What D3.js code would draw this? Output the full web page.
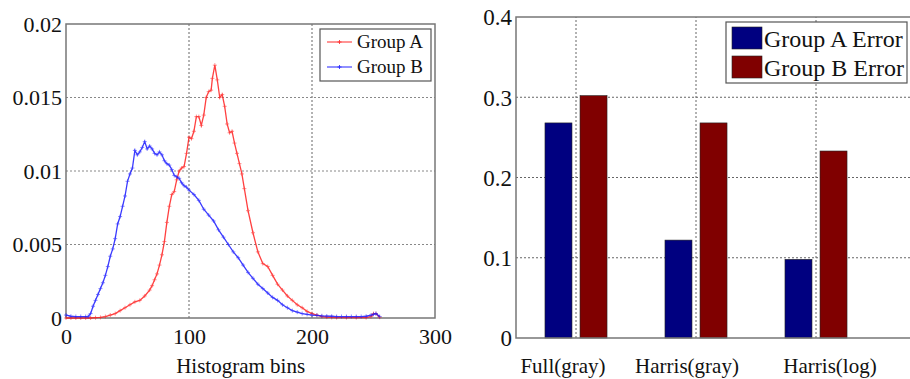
<!DOCTYPE html>
<html><head><meta charset="utf-8">
<script src="https://cdn.jsdelivr.net/npm/d3@7"></script>
<style>body{margin:0;background:#fff}svg{display:block}</style>
</head><body>
<script>
// ---------- Left chart data ----------
const binsA = [0,4,8,12,16,20,24,28,32,36,40,44,48,52,56,60,64,68,70,72,74,76,78,80,82,84,86,88,90,92,94,96,98,100,102,104,106,108,110,112,114,116,118,119,121,123,125,127,129,131,133,135,137,139,141,143,145,148,152,156,160,164,168,172,176,180,184,188,192,196,200,204,208,212,216,220,228,236,244,248,250,252,255];
const valuesA = [0,0,0,0,0,0,0.00002,0.00004,0.0001,0.0002,0.0003,0.0005,0.0007,0.0009,0.0011,0.0012,0.0015,0.0019,0.0022,0.0026,0.0030,0.0036,0.0043,0.0052,0.0065,0.0076,0.0084,0.0086,0.0094,0.0100,0.0102,0.0103,0.0112,0.0123,0.0122,0.0127,0.0137,0.0137,0.0131,0.0138,0.0150,0.0154,0.0155,0.0163,0.0172,0.0162,0.0150,0.0152,0.0144,0.0132,0.0126,0.0127,0.0119,0.0112,0.0105,0.0098,0.0088,0.0073,0.0058,0.0045,0.0037,0.0035,0.0029,0.0023,0.0019,0.0015,0.0012,0.0009,0.0007,0.00045,0.0003,0.0002,0.0001,0.00006,0.00004,0.00003,0.00003,0.00003,0.00003,0.0001,0.0003,0.0003,0.00005];
const binsB = [0,4,8,12,16,18,20,22,24,26,28,30,32,34,36,38,40,42,44,46,48,50,52,54,56,58,60,62,64,66,68,70,72,74,76,78,80,82,84,86,88,90,92,94,96,98,100,104,108,112,116,120,124,128,132,136,140,144,148,152,156,160,164,168,172,176,180,184,188,192,196,200,204,208,212,216,220,224,228,232,236,240,244,248,250,252,255];
const valuesB = [0.0002,0.00012,0.0001,0.0001,0.0001,0.0001,0.0003,0.0008,0.0012,0.0016,0.0020,0.0024,0.0029,0.0035,0.0042,0.0047,0.0054,0.0064,0.0069,0.0076,0.0083,0.0093,0.0098,0.0102,0.0114,0.0111,0.0113,0.0116,0.0120,0.0115,0.0117,0.0115,0.0112,0.0111,0.0113,0.0111,0.0107,0.0105,0.0104,0.0101,0.0097,0.0096,0.0095,0.0092,0.0090,0.0089,0.0087,0.0084,0.0080,0.0074,0.0070,0.0066,0.0060,0.0055,0.0050,0.0045,0.0041,0.0036,0.0031,0.0027,0.0023,0.0020,0.0017,0.0014,0.0012,0.0009,0.0007,0.0005,0.0004,0.0003,0.00025,0.0002,0.00018,0.00015,0.00013,0.00012,0.0001,0.0001,0.0001,0.0001,0.0001,0.0001,0.00012,0.0002,0.00025,0.0003,0.0001];
const lineSeries = ["Group A","Group B"];
const xTicksLeft = [0,100,200,300];
const yTicksLeft = [0,0.005,0.01,0.015,0.02];
const xLabelLeft = "Histogram bins";

// ---------- Right chart data ----------
const categories = ["Full(gray)","Harris(gray)","Harris(log)"];
const errorA = [0.268,0.122,0.098];
const errorB = [0.302,0.268,0.233];
const barSeries = ["Group A Error","Group B Error"];
const yTicksRight = [0,0.1,0.2,0.3,0.4];

const FONT = '"Liberation Serif", "Times New Roman", serif';
const W = 910, H = 379;
const svg = d3.select("body").append("svg").attr("width",W).attr("height",H).style("font-family",FONT);
svg.append("rect").attr("width",W).attr("height",H).attr("fill","#fff");
const txt = (sel,size) => sel.style("font-family",FONT).style("font-size",size+"px").attr("fill","#111");

const gridStyle = sel => sel.attr("stroke","#666").attr("stroke-width",1).attr("stroke-dasharray","2,2").attr("fill","none");

// ================= LEFT CHART =================
const L = {x0:66, x1:435, y0:318, y1:24};
const xL = d3.scaleLinear().domain([0,300]).range([L.x0,L.x1]);
const yL = d3.scaleLinear().domain([0,0.02]).range([L.y0,L.y1]);
const gL = svg.append("g");

gL.selectAll(".vg").data(xTicksLeft.slice(1,-1)).join("line")
  .attr("x1",d=>xL(d)).attr("x2",d=>xL(d)).attr("y1",L.y0).attr("y2",L.y1).call(gridStyle);
gL.selectAll(".hg").data(yTicksLeft.slice(1,-1)).join("line")
  .attr("x1",L.x0).attr("x2",L.x1).attr("y1",d=>yL(d)).attr("y2",d=>yL(d)).call(gridStyle).attr("stroke","#888");

const axL = gL.append("g").attr("transform",`translate(0,${L.y0})`)
  .call(d3.axisBottom(xL).tickValues(xTicksLeft).tickSize(0).tickPadding(10).tickFormat(d3.format("d")));
const ayL = gL.append("g").attr("transform",`translate(${L.x0},0)`)
  .call(d3.axisLeft(yL).tickValues(yTicksLeft).tickSize(0).tickPadding(4).tickFormat(d=>d===0?"0":String(+d.toFixed(3))));
[axL,ayL].forEach(a=>{a.attr("font-family",null).attr("font-size",null);a.select(".domain").remove();a.selectAll("text").call(txt,22);});
axL.selectAll("text").attr("dy","0.71em");
ayL.selectAll("text").attr("dy","0.34em");

gL.append("rect").attr("x",L.x0).attr("y",L.y1).attr("width",L.x1-L.x0).attr("height",L.y0-L.y1)
  .attr("fill","none").attr("stroke","#777").attr("stroke-width",1.5);

const colsL = ["#ff2020","#1818ff"];
const seriesL = [binsA.map((b,i)=>[b,valuesA[i]]), binsB.map((b,i)=>[b,valuesB[i]])];
const line = d3.line().x(d=>xL(d[0])).y(d=>yL(d[1]));
seriesL.forEach((pts,k)=>{
  const g = gL.append("g").attr("opacity",0.85);
  g.append("path").datum(pts).attr("d",line).attr("fill","none").attr("stroke",colsL[k]).attr("stroke-width",1.3);
  g.selectAll("path.m").data(pts).join("path").attr("class","m")
    .attr("d",d=>{const x=xL(d[0]),y=yL(d[1]);return `M${x-2},${y}H${x+2}M${x},${y-2}V${y+2}`;})
    .attr("stroke",colsL[k]).attr("stroke-width",1).attr("opacity",0.6);
});

gL.append("text").attr("x",xL(142)).attr("y",373).attr("text-anchor","middle")
  .call(txt,21).text(xLabelLeft);

const lgL = gL.append("g");
lgL.append("rect").attr("x",320).attr("y",29).attr("width",111).attr("height",52)
  .attr("fill","#fff").attr("stroke","#555").attr("stroke-width",1.2);
lineSeries.forEach((s,i)=>{
  const yy = 42 + i*25;
  lgL.append("line").attr("x1",327).attr("x2",352).attr("y1",yy).attr("y2",yy).attr("stroke",colsL[i]).attr("stroke-width",1.2).attr("opacity",0.8);
  lgL.append("path").attr("d",`M339.5,${yy-2}V${yy+2}M337.5,${yy}H341.5`).attr("stroke",colsL[i]).attr("opacity",0.8);
  lgL.append("text").attr("x",357).attr("y",yy).attr("dy","0.34em").call(txt,19).text(s);
});

// ================= RIGHT CHART =================
const R = {x0:516, x1:912, y0:338, y1:17};
const xR = d3.scaleLinear().domain([0.5,3.8]).range([R.x0,R.x1]);
const yR = d3.scaleLinear().domain([0,0.4]).range([R.y0,R.y1]);
const gR = svg.append("g");

gR.selectAll(".vg").data(categories).join("line")
  .attr("x1",(d,i)=>xR(i+1)).attr("x2",(d,i)=>xR(i+1)).attr("y1",R.y0).attr("y2",R.y1).call(gridStyle);
gR.selectAll(".hg").data(yTicksRight.slice(1,-1)).join("line")
  .attr("x1",R.x0).attr("x2",R.x1).attr("y1",d=>yR(d)).attr("y2",d=>yR(d)).call(gridStyle);

const ayR = gR.append("g").attr("transform",`translate(${R.x0},0)`)
  .call(d3.axisLeft(yR).tickValues(yTicksRight).tickSize(0).tickPadding(4).tickFormat(d=>d===0?"0":d3.format(".1f")(d)));
ayR.attr("font-family",null).attr("font-size",null);
ayR.select(".domain").remove();
ayR.selectAll("text").call(txt,23).attr("dy","0.34em");

const barW = 0.225, barOff = 0.146;
const colsR = ["#000080","#800000"];
[errorA,errorB].forEach((vals,k)=>{
  gR.selectAll(".b"+k).data(vals).join("rect")
    .attr("x",(d,i)=>xR(i+1+(k===0?-barOff:barOff)-barW/2))
    .attr("width",xR(barW)-xR(0))
    .attr("y",d=>yR(d)).attr("height",d=>yR(0)-yR(d))
    .attr("fill",colsR[k]).attr("stroke","#222").attr("stroke-width",0.6);
});

gR.append("path").attr("d",`M${R.x1},${R.y1}H${R.x0}V${R.y0}H${R.x1}`)
  .attr("fill","none").attr("stroke","#777").attr("stroke-width",1.5);

const catDx = [-13,-9,14];
gR.selectAll(".cl").data(categories).join("text")
  .attr("x",(d,i)=>xR(i+1)+catDx[i]).attr("y",373).attr("text-anchor","middle")
  .call(txt,21).text(d=>d);

const lgR = gR.append("g");
lgR.append("rect").attr("x",726).attr("y",22).attr("width",181).attr("height",61)
  .attr("fill","#fff").attr("stroke","#555").attr("stroke-width",1.2);
barSeries.forEach((s,i)=>{
  const yy = 27 + i*29;
  lgR.append("rect").attr("x",732).attr("y",yy).attr("width",30).attr("height",22).attr("fill",colsR[i]).attr("stroke","#222").attr("stroke-width",0.6);
  lgR.append("text").attr("x",764).attr("y",yy+11).attr("dy","0.36em").call(txt,24).text(s);
});
</script>
</body></html>
